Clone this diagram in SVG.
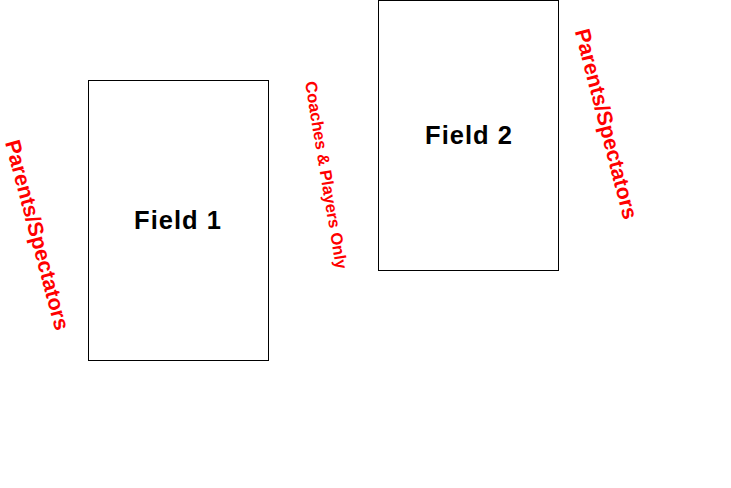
<svg xmlns="http://www.w3.org/2000/svg" width="731" height="488" viewBox="0 0 731 488">
<style>
.field{fill:#fff;stroke:#000;stroke-width:1}
.ft{font-family:"Liberation Sans",Arial,sans-serif;font-weight:bold;font-size:25.5px;letter-spacing:1px;fill:#000;text-anchor:middle;dominant-baseline:central}
.lbl{font-family:"Liberation Sans",Arial,sans-serif;font-weight:bold;fill:#ff0000;text-anchor:middle;dominant-baseline:central}
</style>
<rect width="731" height="488" fill="#fff"/>
<g id="field1"><rect class="field" x="88.5" y="80.5" width="180" height="280"/><text class="ft" x="178" y="220">Field 1</text></g>
<g id="field2"><rect class="field" x="378.5" y="0.5" width="180" height="270"/><text class="ft" x="469" y="135">Field 2</text></g>
<g id="labels">
<text class="lbl" font-size="21.5" transform="translate(37,235) rotate(75)">Parents/Spectators</text>
<text class="lbl" font-size="16.5" transform="translate(326.5,175) rotate(80.5)">Coaches &amp; Players Only</text>
<text class="lbl" font-size="21.5" transform="translate(606,124) rotate(75.5)">Parents/Spectators</text>
</g>
<g id="connectors"/>
</svg>
